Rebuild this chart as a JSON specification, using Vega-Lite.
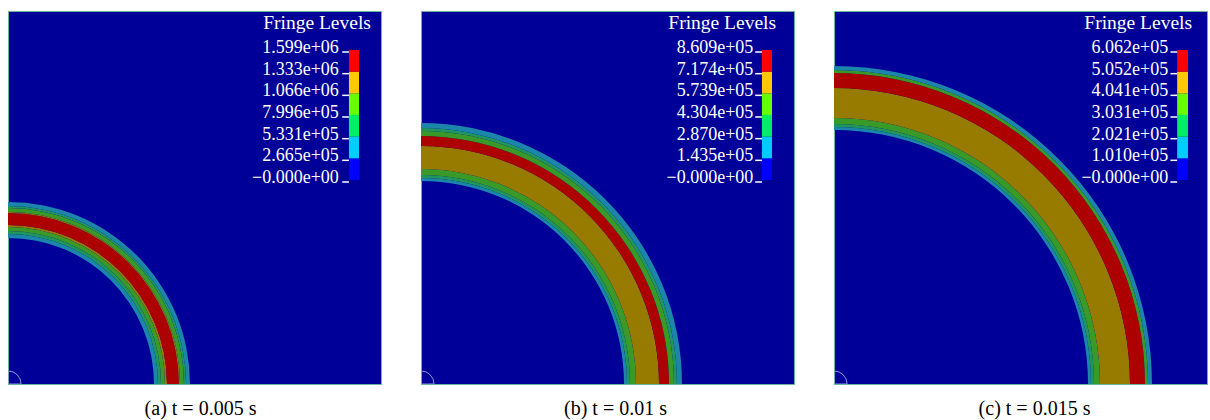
{
  "$schema": "https://vega.github.io/schema/vega-lite/v6.json",
  "background": "white",
  "padding": {"left": 7, "top": 10, "right": 0, "bottom": 0},
  "spacing": 38,
  "config": {
    "view": {"fill": "#000099", "stroke": "#6ab59e", "strokeWidth": 1},
    "axis": {"disable": true},
    "title": {"orient": "bottom", "fontSize": 20, "font": "Liberation Serif", "fontWeight": "normal", "color": "#000000", "offset": 15},
    "text": {"font": "Liberation Serif"}
  },
  "datasets": {
    "rings": [
      {"panel": "a", "r0": 39.14, "r1": 40.21, "level": 2},
      {"panel": "a", "r0": 40.21, "r1": 41.02, "level": 3},
      {"panel": "a", "r0": 41.02, "r1": 42.09, "level": 4},
      {"panel": "a", "r0": 42.09, "r1": 42.63, "level": 5},
      {"panel": "a", "r0": 42.63, "r1": 45.84, "level": 6},
      {"panel": "a", "r0": 45.84, "r1": 46.11, "level": 5},
      {"panel": "a", "r0": 46.11, "r1": 47.18, "level": 4},
      {"panel": "a", "r0": 47.18, "r1": 47.72, "level": 3},
      {"panel": "a", "r0": 47.72, "r1": 48.79, "level": 2},
      {"panel": "b", "r0": 54.42, "r1": 55.23, "level": 2},
      {"panel": "b", "r0": 55.23, "r1": 56.03, "level": 3},
      {"panel": "b", "r0": 56.03, "r1": 57.64, "level": 4},
      {"panel": "b", "r0": 57.64, "r1": 63.81, "level": 5},
      {"panel": "b", "r0": 63.81, "r1": 66.49, "level": 6},
      {"panel": "b", "r0": 66.49, "r1": 67.83, "level": 4},
      {"panel": "b", "r0": 67.83, "r1": 68.63, "level": 3},
      {"panel": "b", "r0": 68.63, "r1": 69.97, "level": 2},
      {"panel": "c", "r0": 68.10, "r1": 68.90, "level": 2},
      {"panel": "c", "r0": 68.90, "r1": 69.71, "level": 3},
      {"panel": "c", "r0": 69.71, "r1": 71.31, "level": 4},
      {"panel": "c", "r0": 71.31, "r1": 79.36, "level": 5},
      {"panel": "c", "r0": 79.36, "r1": 83.38, "level": 6},
      {"panel": "c", "r0": 83.38, "r1": 84.18, "level": 4},
      {"panel": "c", "r0": 84.18, "r1": 85.25, "level": 2}
    ],
    "blocks": [
      {"panel": "a", "lo": 0, "hi": 266533, "level": 1},
      {"panel": "a", "lo": 266533, "hi": 533067, "level": 2},
      {"panel": "a", "lo": 533067, "hi": 799600, "level": 3},
      {"panel": "a", "lo": 799600, "hi": 1066133, "level": 4},
      {"panel": "a", "lo": 1066133, "hi": 1332667, "level": 5},
      {"panel": "a", "lo": 1332667, "hi": 1599200, "level": 6},
      {"panel": "b", "lo": 0, "hi": 143480, "level": 1},
      {"panel": "b", "lo": 143480, "hi": 286960, "level": 2},
      {"panel": "b", "lo": 286960, "hi": 430440, "level": 3},
      {"panel": "b", "lo": 430440, "hi": 573920, "level": 4},
      {"panel": "b", "lo": 573920, "hi": 717400, "level": 5},
      {"panel": "b", "lo": 717400, "hi": 860880, "level": 6},
      {"panel": "c", "lo": 0, "hi": 101033, "level": 1},
      {"panel": "c", "lo": 101033, "hi": 202067, "level": 2},
      {"panel": "c", "lo": 202067, "hi": 303100, "level": 3},
      {"panel": "c", "lo": 303100, "hi": 404133, "level": 4},
      {"panel": "c", "lo": 404133, "hi": 505167, "level": 5},
      {"panel": "c", "lo": 505167, "hi": 606200, "level": 6}
    ],
    "levels": [
      {"panel": "a", "v": 0, "label": "−0.000e+00"},
      {"panel": "a", "v": 266533, "label": "2.665e+05"},
      {"panel": "a", "v": 533067, "label": "5.331e+05"},
      {"panel": "a", "v": 799600, "label": "7.996e+05"},
      {"panel": "a", "v": 1066133, "label": "1.066e+06"},
      {"panel": "a", "v": 1332667, "label": "1.333e+06"},
      {"panel": "a", "v": 1599200, "label": "1.599e+06"},
      {"panel": "b", "v": 0, "label": "−0.000e+00"},
      {"panel": "b", "v": 143480, "label": "1.435e+05"},
      {"panel": "b", "v": 286960, "label": "2.870e+05"},
      {"panel": "b", "v": 430440, "label": "4.304e+05"},
      {"panel": "b", "v": 573920, "label": "5.739e+05"},
      {"panel": "b", "v": 717400, "label": "7.174e+05"},
      {"panel": "b", "v": 860880, "label": "8.609e+05"},
      {"panel": "c", "v": 0, "label": "−0.000e+00"},
      {"panel": "c", "v": 101033, "label": "1.010e+05"},
      {"panel": "c", "v": 202067, "label": "2.021e+05"},
      {"panel": "c", "v": 303100, "label": "3.031e+05"},
      {"panel": "c", "v": 404133, "label": "4.041e+05"},
      {"panel": "c", "v": 505167, "label": "5.052e+05"},
      {"panel": "c", "v": 606200, "label": "6.062e+05"}
    ]
  },
  "hconcat": [
    {
      "width": 373, "height": 373,
      "title": {"text": "(a) t = 0.005 s", "dx": 6},
      "resolve": {"scale": {"y": "independent", "color": "independent"}},
      "layer": [
        {
          "data": {"name": "rings"},
          "transform": [{"filter": "datum.panel == 'a'"}],
          "mark": {"type": "arc", "clip": true},
          "encoding": {
            "x": {"datum": 0, "type": "quantitative", "scale": {"domain": [0, 100]}, "axis": null},
            "y": {"datum": 0, "type": "quantitative", "scale": {"domain": [0, 100]}, "axis": null},
            "theta": {"datum": 0, "type": "quantitative", "scale": {"domain": [0, 360]}, "stack": null},
            "theta2": {"datum": 90},
            "radius": {"field": "r0", "type": "quantitative", "scale": {"type": "linear", "domain": [0, 100], "range": [0, 373], "zero": true}},
            "radius2": {"field": "r1"},
            "color": {"field": "level", "type": "ordinal", "legend": null, "scale": {"domain": [2, 3, 4, 5, 6], "range": ["#1c86aa", "#1f965e", "#3a9a28", "#977a00", "#ad0000"]}}
          }
        },
        {
          "data": {"values": [{"r": 3.5}]},
          "mark": {"type": "arc", "fill": "transparent", "stroke": "#8a98d8", "strokeWidth": 1, "clip": true},
          "encoding": {
            "x": {"datum": 0, "type": "quantitative"},
            "y": {"datum": 0, "type": "quantitative", "scale": {"domain": [0, 100]}, "axis": null},
            "theta": {"datum": 0, "type": "quantitative", "scale": {"domain": [0, 360]}, "stack": null},
            "theta2": {"datum": 90},
            "radius": {"field": "r", "type": "quantitative"}
          }
        },
        {
          "data": {"values": [{"t": "Fringe Levels"}]},
          "mark": {"type": "text", "align": "right", "baseline": "alphabetic", "fontSize": 19.5, "color": "white"},
          "encoding": {
            "x": {"datum": 97.3, "type": "quantitative"},
            "y": {"datum": 95.2, "type": "quantitative", "scale": {"domain": [0, 100]}, "axis": null},
            "text": {"field": "t"}
          }
        },
        {
          "data": {"name": "blocks"},
          "transform": [{"filter": "datum.panel == 'a'"}],
          "mark": {"type": "rect"},
          "encoding": {
            "x": {"datum": 91.4, "type": "quantitative"},
            "x2": {"datum": 94.1},
            "y": {"field": "lo", "type": "quantitative", "scale": {"domain": [0, 1599200], "range": [169, 39]}, "axis": null},
            "y2": {"field": "hi"},
            "color": {"field": "level", "type": "ordinal", "legend": null, "scale": {"domain": [1, 2, 3, 4, 5, 6], "range": ["#0000ff", "#00ccff", "#00ee66", "#66ff00", "#ffc800", "#ff0000"]}}
          }
        },
        {
          "data": {"name": "levels"},
          "transform": [{"filter": "datum.panel == 'a'"}],
          "mark": {"type": "rule", "color": "white", "strokeWidth": 1.5, "yOffset": 2},
          "encoding": {
            "x": {"datum": 89.6, "type": "quantitative"},
            "x2": {"datum": 91.4},
            "y": {"field": "v", "type": "quantitative", "scale": {"domain": [0, 1599200], "range": [169, 39]}, "axis": null}
          }
        },
        {
          "data": {"name": "levels"},
          "transform": [{"filter": "datum.panel == 'a'"}],
          "mark": {"type": "text", "align": "right", "baseline": "alphabetic", "dy": 3, "fontSize": 18, "color": "white"},
          "encoding": {
            "x": {"datum": 88.7, "type": "quantitative"},
            "y": {"field": "v", "type": "quantitative", "scale": {"domain": [0, 1599200], "range": [169, 39]}, "axis": null},
            "text": {"field": "label"}
          }
        }
      ]
    },
    {
      "width": 373, "height": 373,
      "title": {"text": "(b) t = 0.01 s", "dx": 8},
      "resolve": {"scale": {"y": "independent", "color": "independent"}},
      "layer": [
        {
          "data": {"name": "rings"},
          "transform": [{"filter": "datum.panel == 'b'"}],
          "mark": {"type": "arc", "clip": true},
          "encoding": {
            "x": {"datum": 0, "type": "quantitative", "scale": {"domain": [0, 100]}, "axis": null},
            "y": {"datum": 0, "type": "quantitative", "scale": {"domain": [0, 100]}, "axis": null},
            "theta": {"datum": 0, "type": "quantitative", "scale": {"domain": [0, 360]}, "stack": null},
            "theta2": {"datum": 90},
            "radius": {"field": "r0", "type": "quantitative", "scale": {"type": "linear", "domain": [0, 100], "range": [0, 373], "zero": true}},
            "radius2": {"field": "r1"},
            "color": {"field": "level", "type": "ordinal", "legend": null, "scale": {"domain": [2, 3, 4, 5, 6], "range": ["#1c86aa", "#1f965e", "#3a9a28", "#977a00", "#ad0000"]}}
          }
        },
        {
          "data": {"values": [{"r": 3.5}]},
          "mark": {"type": "arc", "fill": "transparent", "stroke": "#8a98d8", "strokeWidth": 1, "clip": true},
          "encoding": {
            "x": {"datum": 0, "type": "quantitative"},
            "y": {"datum": 0, "type": "quantitative", "scale": {"domain": [0, 100]}, "axis": null},
            "theta": {"datum": 0, "type": "quantitative", "scale": {"domain": [0, 360]}, "stack": null},
            "theta2": {"datum": 90},
            "radius": {"field": "r", "type": "quantitative"}
          }
        },
        {
          "data": {"values": [{"t": "Fringe Levels"}]},
          "mark": {"type": "text", "align": "right", "baseline": "alphabetic", "fontSize": 19.5, "color": "white"},
          "encoding": {
            "x": {"datum": 95.2, "type": "quantitative"},
            "y": {"datum": 95.2, "type": "quantitative", "scale": {"domain": [0, 100]}, "axis": null},
            "text": {"field": "t"}
          }
        },
        {
          "data": {"name": "blocks"},
          "transform": [{"filter": "datum.panel == 'b'"}],
          "mark": {"type": "rect"},
          "encoding": {
            "x": {"datum": 91.4, "type": "quantitative"},
            "x2": {"datum": 94.1},
            "y": {"field": "lo", "type": "quantitative", "scale": {"domain": [0, 860880], "range": [169, 39]}, "axis": null},
            "y2": {"field": "hi"},
            "color": {"field": "level", "type": "ordinal", "legend": null, "scale": {"domain": [1, 2, 3, 4, 5, 6], "range": ["#0000ff", "#00ccff", "#00ee66", "#66ff00", "#ffc800", "#ff0000"]}}
          }
        },
        {
          "data": {"name": "levels"},
          "transform": [{"filter": "datum.panel == 'b'"}],
          "mark": {"type": "rule", "color": "white", "strokeWidth": 1.5, "yOffset": 2},
          "encoding": {
            "x": {"datum": 89.6, "type": "quantitative"},
            "x2": {"datum": 91.4},
            "y": {"field": "v", "type": "quantitative", "scale": {"domain": [0, 860880], "range": [169, 39]}, "axis": null}
          }
        },
        {
          "data": {"name": "levels"},
          "transform": [{"filter": "datum.panel == 'b'"}],
          "mark": {"type": "text", "align": "right", "baseline": "alphabetic", "dy": 3, "fontSize": 18, "color": "white"},
          "encoding": {
            "x": {"datum": 89.1, "type": "quantitative"},
            "y": {"field": "v", "type": "quantitative", "scale": {"domain": [0, 860880], "range": [169, 39]}, "axis": null},
            "text": {"field": "label"}
          }
        }
      ]
    },
    {
      "width": 373, "height": 373,
      "title": {"text": "(c) t = 0.015 s", "dx": 14},
      "resolve": {"scale": {"y": "independent", "color": "independent"}},
      "layer": [
        {
          "data": {"name": "rings"},
          "transform": [{"filter": "datum.panel == 'c'"}],
          "mark": {"type": "arc", "clip": true},
          "encoding": {
            "x": {"datum": 0, "type": "quantitative", "scale": {"domain": [0, 100]}, "axis": null},
            "y": {"datum": 0, "type": "quantitative", "scale": {"domain": [0, 100]}, "axis": null},
            "theta": {"datum": 0, "type": "quantitative", "scale": {"domain": [0, 360]}, "stack": null},
            "theta2": {"datum": 90},
            "radius": {"field": "r0", "type": "quantitative", "scale": {"type": "linear", "domain": [0, 100], "range": [0, 373], "zero": true}},
            "radius2": {"field": "r1"},
            "color": {"field": "level", "type": "ordinal", "legend": null, "scale": {"domain": [2, 3, 4, 5, 6], "range": ["#1c86aa", "#1f965e", "#3a9a28", "#977a00", "#ad0000"]}}
          }
        },
        {
          "data": {"values": [{"r": 3.5}]},
          "mark": {"type": "arc", "fill": "transparent", "stroke": "#8a98d8", "strokeWidth": 1, "clip": true},
          "encoding": {
            "x": {"datum": 0, "type": "quantitative"},
            "y": {"datum": 0, "type": "quantitative", "scale": {"domain": [0, 100]}, "axis": null},
            "theta": {"datum": 0, "type": "quantitative", "scale": {"domain": [0, 360]}, "stack": null},
            "theta2": {"datum": 90},
            "radius": {"field": "r", "type": "quantitative"}
          }
        },
        {
          "data": {"values": [{"t": "Fringe Levels"}]},
          "mark": {"type": "text", "align": "right", "baseline": "alphabetic", "fontSize": 19.5, "color": "white"},
          "encoding": {
            "x": {"datum": 96.0, "type": "quantitative"},
            "y": {"datum": 95.2, "type": "quantitative", "scale": {"domain": [0, 100]}, "axis": null},
            "text": {"field": "t"}
          }
        },
        {
          "data": {"name": "blocks"},
          "transform": [{"filter": "datum.panel == 'c'"}],
          "mark": {"type": "rect"},
          "encoding": {
            "x": {"datum": 92.0, "type": "quantitative"},
            "x2": {"datum": 94.9},
            "y": {"field": "lo", "type": "quantitative", "scale": {"domain": [0, 606200], "range": [169, 39]}, "axis": null},
            "y2": {"field": "hi"},
            "color": {"field": "level", "type": "ordinal", "legend": null, "scale": {"domain": [1, 2, 3, 4, 5, 6], "range": ["#0000ff", "#00ccff", "#00ee66", "#66ff00", "#ffc800", "#ff0000"]}}
          }
        },
        {
          "data": {"name": "levels"},
          "transform": [{"filter": "datum.panel == 'c'"}],
          "mark": {"type": "rule", "color": "white", "strokeWidth": 1.5, "yOffset": 2},
          "encoding": {
            "x": {"datum": 90.2, "type": "quantitative"},
            "x2": {"datum": 92.0},
            "y": {"field": "v", "type": "quantitative", "scale": {"domain": [0, 606200], "range": [169, 39]}, "axis": null}
          }
        },
        {
          "data": {"name": "levels"},
          "transform": [{"filter": "datum.panel == 'c'"}],
          "mark": {"type": "text", "align": "right", "baseline": "alphabetic", "dy": 3, "fontSize": 18, "color": "white"},
          "encoding": {
            "x": {"datum": 89.6, "type": "quantitative"},
            "y": {"field": "v", "type": "quantitative", "scale": {"domain": [0, 606200], "range": [169, 39]}, "axis": null},
            "text": {"field": "label"}
          }
        }
      ]
    }
  ]
}
